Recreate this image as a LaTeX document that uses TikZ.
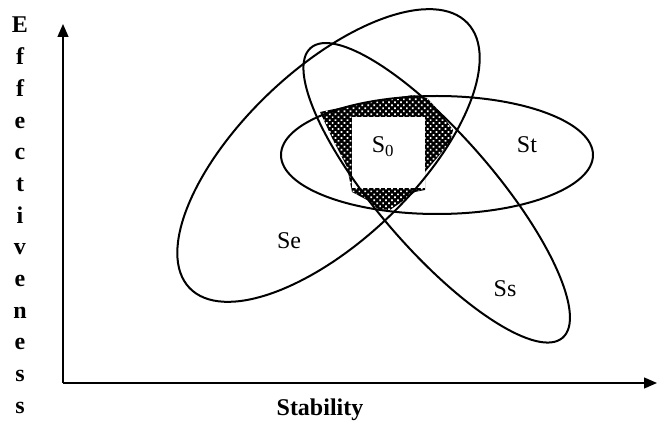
\documentclass[tikz,border=0pt]{standalone}
\usepackage{fontspec}
\setmainfont{Liberation Serif}
\usetikzlibrary{positioning,arrows.meta,patterns.meta}
\tikzset{>={Triangle[length=13pt,width=11pt]}}

\begin{document}
\begin{tikzpicture}[
    x=1pt, y=1pt,
    set/.style={line width=2pt},
    axis/.style={->, line width=1.3pt},
    setname/.style={font=\fontsize{24}{24}\selectfont},
    axisname/.style={font=\bfseries\fontsize{24}{31.7}\selectfont},
    shaded/.style={preaction={fill=black}, pattern={Dots[radius=1.2pt,distance=4.2pt,angle=45]}, pattern color=white}
]
\useasboundingbox (0,0) rectangle (657,426);

% axes
\coordinate (origin) at (63,43);
\coordinate (ytip) at (63,402);
\coordinate (xtip) at (657,43);
\draw[axis] (origin) -- (ytip);
\draw[axis] (origin) -- (xtip);
\node[axisname, anchor=base] (xlabel) at (320,10) {Stability};
\node[axisname, anchor=north, align=center, inner sep=0pt] (ylabel) at (20,409)
    {E\\f\\f\\e\\c\\t\\i\\v\\e\\n\\e\\s\\s};

% common part
\path[shaded] (320,314) -- (363,323) -- (413,331) -- (427,328) -- (440,314)
    -- (453,296) -- (450,284) -- (437,268) -- (425,254) -- (425,236)
    -- (415,234) -- (400,223) -- (390,216) -- (378,217) -- (367,226)
    -- (352,234) -- (347,259) -- (333,286) -- cycle;
\fill[white] (352,238) rectangle (425,309);

% the three sets
\draw[set] (328.5,270.5) ellipse [x radius=192, y radius=86, rotate=43.6];
\draw[set] (436.7,233.2) ellipse [x radius=192, y radius=57.5, rotate=-49];
\draw[set] (437,271) ellipse [x radius=156, y radius=59];

\node[setname] (s0) at (383,279) {S\textsubscript{0}};
\node[setname] (se) at (289,185) {Se};
\node[setname] (st) at (527,281) {St};
\node[setname] (ss) at (505,137) {Ss};
\end{tikzpicture}
\end{document}
